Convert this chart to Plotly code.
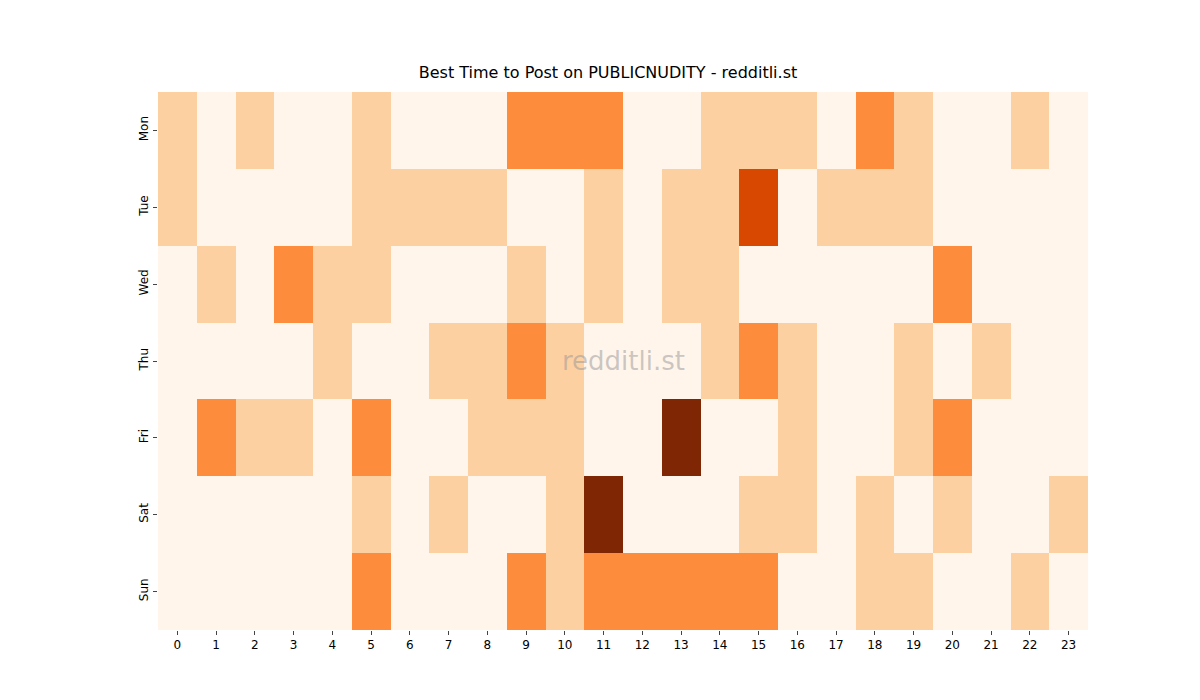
import plotly.graph_objects as go

days = ['Mon', 'Tue', 'Wed', 'Thu', 'Fri', 'Sat', 'Sun']
hours = list(range(24))

mon = [1, 0, 1, 0, 0, 1, 0, 0, 0, 2, 2, 2, 0, 0, 1, 1, 1, 0, 2, 1, 0, 0, 1, 0]
tue = [1, 0, 0, 0, 0, 1, 1, 1, 1, 0, 0, 1, 0, 1, 1, 3, 0, 1, 1, 1, 0, 0, 0, 0]
wed = [0, 1, 0, 2, 1, 1, 0, 0, 0, 1, 0, 1, 0, 1, 1, 0, 0, 0, 0, 0, 2, 0, 0, 0]
thu = [0, 0, 0, 0, 1, 0, 0, 1, 1, 2, 1, 0, 0, 0, 1, 2, 1, 0, 0, 1, 0, 1, 0, 0]
fri = [0, 2, 1, 1, 0, 2, 0, 0, 1, 1, 1, 0, 0, 4, 0, 0, 1, 0, 0, 1, 2, 0, 0, 0]
sat = [0, 0, 0, 0, 0, 1, 0, 1, 0, 0, 1, 4, 0, 0, 0, 1, 1, 0, 1, 0, 1, 0, 0, 1]
sun = [0, 0, 0, 0, 0, 2, 0, 0, 0, 2, 1, 2, 2, 2, 2, 2, 0, 0, 1, 1, 0, 0, 1, 0]

z = [mon, tue, wed, thu, fri, sat, sun]

oranges = [[0, '#fff5eb'], [0.25, '#fdd0a2'], [0.5, '#fd8d3c'],
           [0.75, '#d94801'], [1, '#7f2704']]

fig = go.Figure(go.Heatmap(
    z=z, x=hours, y=days, colorscale=oranges, zmin=0, zmax=4,
    showscale=False, xgap=0, ygap=0
))
fig.update_layout(
    width=1200, height=700,
    plot_bgcolor='#FFFFFF', paper_bgcolor='#FFFFFF',
    font=dict(family='DejaVu Sans', size=12, color='#000000'),
    title=dict(text='Best Time to Post on PUBLICNUDITY - redditli.st',
               x=0.5, xanchor='center', y=0.9, yanchor='bottom',
               font=dict(size=16)),
    margin=dict(l=150, r=120, t=84, b=78),
    annotations=[dict(text='redditli.st', x=0.5, y=0.5, xref='paper',
                      yref='paper', showarrow=False,
                      font=dict(size=26, color='rgba(150,150,150,0.5)'))]
)
fig.update_xaxes(tickmode='array', tickvals=hours, ticks='outside',
                 ticklen=4, showgrid=False, zeroline=False)
fig.update_yaxes(autorange='reversed', ticks='outside', ticklen=4,
                 tickangle=-90, showgrid=False, zeroline=False)
fig.write_html('out.html')
